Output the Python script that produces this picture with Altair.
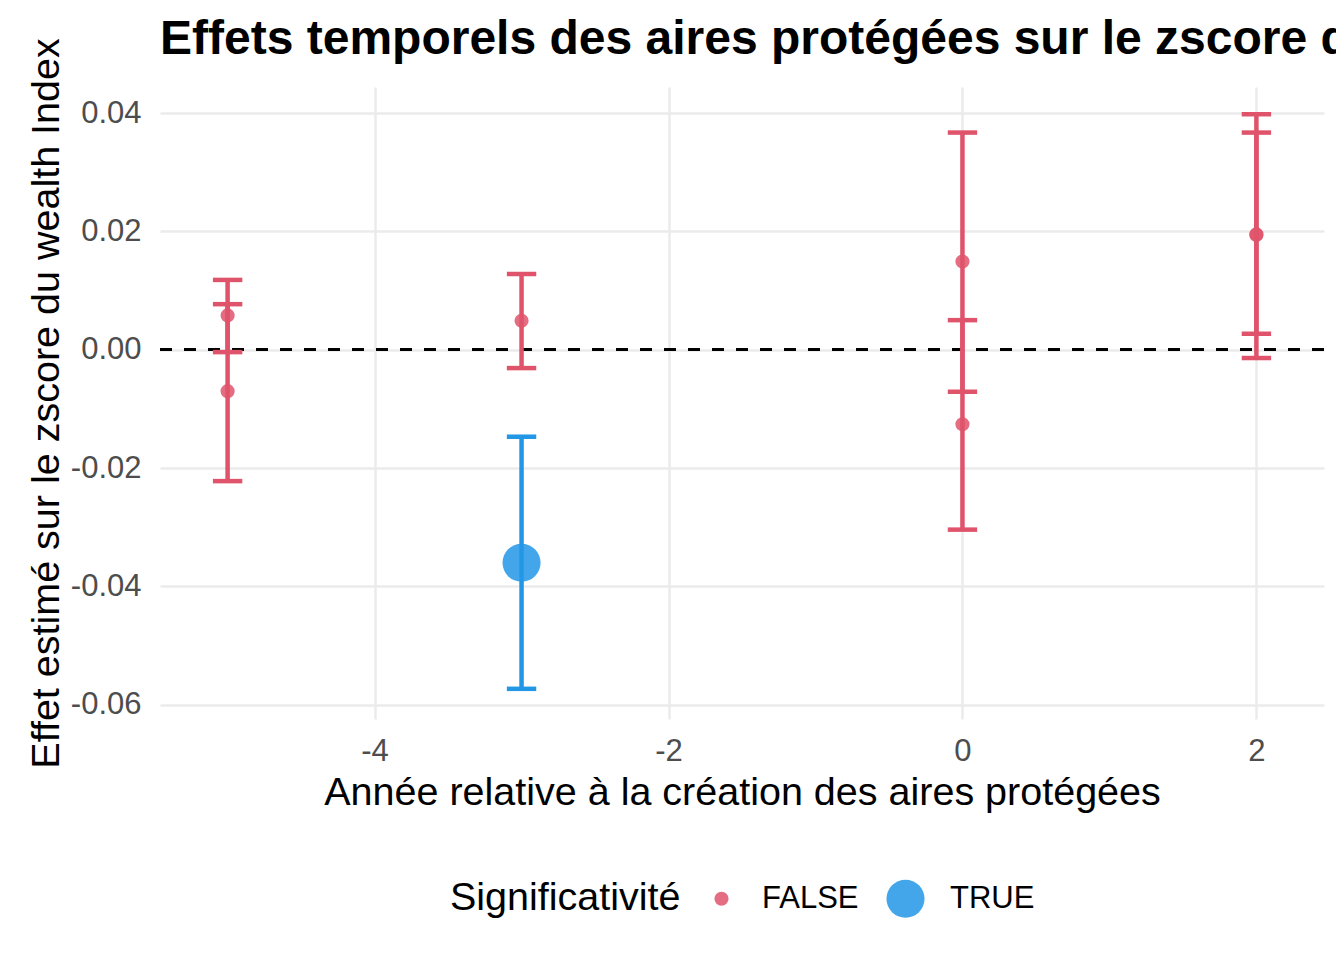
import altair as alt
import pandas as pd

# ---- data ----
annees = [-5, -5, -3, -3, 0, 0, 2, 2]
estimations = [0.0058, -0.0070, 0.0049, -0.0360, 0.0149, -0.0126, 0.0195, 0.0194]
bornes_basses = [-0.0004, -0.0222, -0.0031, -0.0573, -0.0071, -0.0304, -0.0014, 0.0027]
bornes_hautes = [0.0118, 0.0077, 0.0128, -0.0147, 0.0367, 0.0050, 0.0398, 0.0367]
significatif = ["FALSE", "FALSE", "FALSE", "TRUE", "FALSE", "FALSE", "FALSE", "FALSE"]
x_ticks = [-4, -2, 0, 2]
y_ticks = [-0.06, -0.04, -0.02, 0.00, 0.02, 0.04]

df = pd.DataFrame({
    "annee": annees,
    "estimation": estimations,
    "bas": bornes_basses,
    "haut": bornes_hautes,
    "sig": significatif,
})

FONT = "Liberation Sans"
RED = "#DF536B"
BLUE = "#2297E6"

xscale = alt.Scale(domain=[-5.46, 2.46], nice=False, zero=False)
yscale = alt.Scale(domain=[-0.0624, 0.0444], nice=False, zero=False)
cscale = alt.Scale(domain=["FALSE", "TRUE"], range=[RED, BLUE])
sscale = alt.Scale(domain=["FALSE", "TRUE"], range=[200, 1450])

xaxis = alt.Axis(
    values=x_ticks,
    title="Année relative à la création des aires protégées",
    labelExpr="datum.value < 0 ? '-' + format(-datum.value, 'd') : format(datum.value, 'd')",
    labelPadding=17,
    titlePadding=7,
)
yaxis = alt.Axis(
    values=y_ticks,
    title="Effet estimé sur le zscore du wealth Index",
    labelExpr="datum.value < -0.000001 ? '-' + format(-datum.value, '.2f') : format(abs(datum.value), '.2f')",
    labelPadding=19,
    titlePadding=4,
)

legend = alt.Legend(
    title="Significativité",
    orient="none",
    legendX=290,
    legendY=792,
    direction="horizontal",
    titleOrient="left",
    titleFont=FONT,
    titleFontSize=39.5,
    titleFontWeight="normal",
    titleColor="black",
    titlePadding=25,
    titleLimit=600,
    labelFont=FONT,
    labelFontSize=31,
    labelColor="black",
    labelLimit=300,
    labelOffset=25,
    columnPadding=27,
    symbolType="circle",
    symbolOpacity=0.85,
    symbolStrokeWidth=0,
)

base = alt.Chart(df).transform_calculate(
    couleur=f"datum.sig == 'TRUE' ? '{BLUE}' : '{RED}'"
)

zero = alt.Chart(df).mark_rule(color="black", strokeDash=[12, 12], strokeWidth=2.5).encode(
    y=alt.datum(0)
)

bars = base.mark_rule(strokeWidth=4.5).encode(
    x=alt.X("annee:Q", scale=xscale, axis=xaxis),
    y=alt.Y("bas:Q", scale=yscale, axis=yaxis),
    y2="haut:Q",
    stroke=alt.Stroke("couleur:N", scale=None),
)

caps = base.transform_fold(
    ["bas", "haut"], as_=["borne", "val"]
).transform_calculate(
    xl="datum.annee - 0.1", xr="datum.annee + 0.1"
).mark_rule(strokeWidth=4.5).encode(
    x=alt.X("xl:Q", scale=xscale, axis=xaxis),
    x2="xr:Q",
    y=alt.Y("val:Q", scale=yscale, axis=yaxis),
    stroke=alt.Stroke("couleur:N", scale=None),
)

points = alt.Chart(df).mark_circle(opacity=0.85).encode(
    x=alt.X("annee:Q", scale=xscale, axis=xaxis),
    y=alt.Y("estimation:Q", scale=yscale, axis=yaxis),
    color=alt.Color("sig:N", scale=cscale, legend=legend),
    size=alt.Size("sig:N", scale=sscale, legend=legend),
)

chart = alt.layer(zero, bars, caps, points).properties(
    width=1164,
    height=632,
    title=alt.Title(
        "Effets temporels des aires protégées sur le zscore du wealth Index",
        anchor="start",
        frame="group",
        font=FONT,
        fontSize=48,
        fontWeight="bold",
        color="black",
        baseline="alphabetic",
        offset=-64,
        limit=3000,
    ),
    autosize=alt.AutoSizeParams(type="none"),
    padding={"left": 152, "top": 79, "right": 12, "bottom": 225},
).configure_view(
    stroke=None
).configure_axis(
    grid=True,
    gridColor="#EBEBEB",
    gridWidth=2.5,
    domain=False,
    ticks=False,
    labelFont=FONT,
    labelFontSize=31,
    labelColor="#4D4D4D",
    titleFont=FONT,
    titleFontSize=39.5,
    titleColor="black",
    titleFontWeight="normal",
)

chart.save("out.html", embed_options={"renderer": "svg", "actions": False})
